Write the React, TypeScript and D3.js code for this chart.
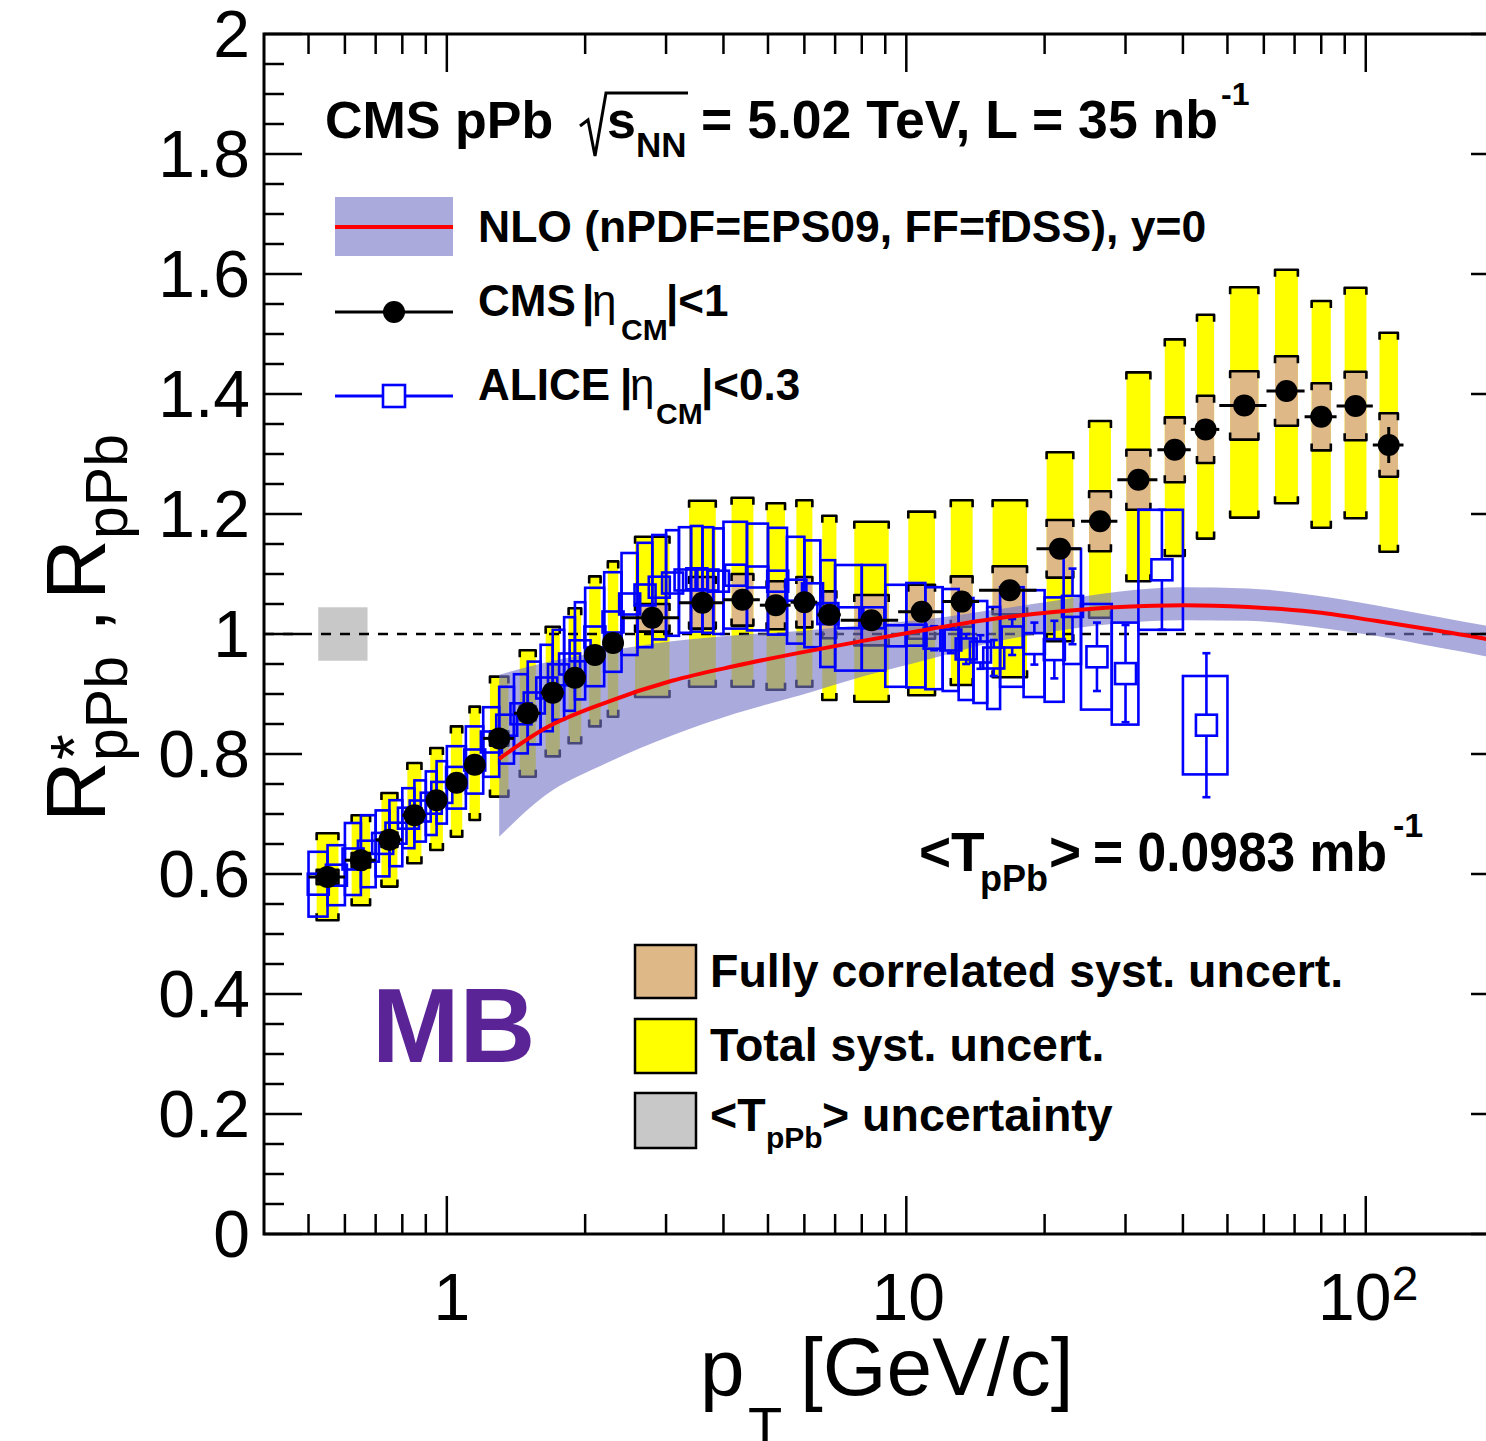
import React from "react";
import * as d3 from "d3";

const W = 1486;
const H = 1441;
const FONT = "'Liberation Sans', Arial, Helvetica, sans-serif";

// ---------- CMS |eta_CM|<1 ----------
const cmsEdges = [0.5, 0.6, 0.7, 0.8, 0.9, 1.0, 1.1, 1.2, 1.4, 1.6, 1.8, 2.0, 2.2, 2.4, 3.2, 4.0, 4.8, 5.6, 6.4, 7.2, 9.6, 12.0, 14.4, 19.2, 24.0, 28.8, 35.2, 41.6, 48.0, 60.8, 73.6, 86.4, 103.6, 120.8];
const cmsR = [0.595, 0.623, 0.657, 0.698, 0.723, 0.752, 0.782, 0.826, 0.868, 0.902, 0.927, 0.965, 0.985, 1.027, 1.052, 1.057, 1.048, 1.053, 1.032, 1.023, 1.037, 1.054, 1.073, 1.142, 1.188, 1.257, 1.307, 1.341, 1.381, 1.405, 1.362, 1.38, 1.315];
const cmsStat = [0.003, 0.003, 0.003, 0.003, 0.003, 0.003, 0.003, 0.003, 0.003, 0.003, 0.003, 0.003, 0.003, 0.004, 0.004, 0.005, 0.005, 0.005, 0.005, 0.005, 0.005, 0.006, 0.006, 0.007, 0.008, 0.008, 0.01, 0.01, 0.012, 0.014, 0.015, 0.017, 0.03];
const cmsTotLow = [0.523, 0.548, 0.579, 0.618, 0.64, 0.662, 0.69, 0.729, 0.762, 0.796, 0.818, 0.846, 0.862, 0.895, 0.912, 0.912, 0.907, 0.912, 0.89, 0.887, 0.898, 0.915, 0.928, 0.988, 1.027, 1.088, 1.13, 1.159, 1.194, 1.218, 1.177, 1.193, 1.137];
const cmsTotHigh = [0.668, 0.698, 0.735, 0.785, 0.81, 0.846, 0.879, 0.929, 0.973, 1.012, 1.043, 1.096, 1.121, 1.162, 1.222, 1.227, 1.218, 1.223, 1.197, 1.187, 1.204, 1.223, 1.223, 1.303, 1.355, 1.436, 1.491, 1.532, 1.578, 1.607, 1.555, 1.577, 1.502];
const cmsCorr = [0.012, 0.012, 0.012, 0.012, 0.012, 0.012, 0.012, 0.012, 0.012, 0.012, 0.012, 0.012, 0.012, 0.023, 0.043, 0.043, 0.04, 0.042, 0.039, 0.042, 0.045, 0.042, 0.04, 0.048, 0.05, 0.05, 0.054, 0.056, 0.057, 0.058, 0.056, 0.057, 0.053];

// ---------- ALICE |eta_CM|<0.3 ----------
const aliceEdges = [0.5, 0.55, 0.6, 0.65, 0.7, 0.75, 0.8, 0.85, 0.9, 0.95, 1.0, 1.1, 1.2, 1.3, 1.4, 1.5, 1.6, 1.7, 1.8, 1.9, 2.0, 2.2, 2.4, 2.6, 2.8, 3.0, 3.2, 3.4, 3.6, 3.8, 4.0, 4.5, 5.0, 5.5, 6.0, 6.5, 7.0, 8.0, 9.0, 10, 11, 12, 13, 14, 15, 16, 18, 20, 22, 24, 28, 32, 40, 50];
const aliceR = [0.583, 0.598, 0.625, 0.638, 0.651, 0.668, 0.693, 0.705, 0.718, 0.736, 0.761, 0.79, 0.82, 0.848, 0.867, 0.885, 0.91, 0.932, 0.95, 0.972, 0.995, 1.02, 1.05, 1.065, 1.078, 1.085, 1.09, 1.092, 1.09, 1.088, 1.098, 1.095, 1.088, 1.073, 1.067, 1.034, 1.027, 1.027, 0.997, 0.998, 0.993, 0.99, 0.975, 0.97, 0.96, 0.995, 0.984, 0.974, 1.046, 0.962, 0.934, 1.107, 0.848];
const aliceSys = [0.054, 0.05, 0.06, 0.06, 0.055, 0.055, 0.05, 0.051, 0.053, 0.052, 0.052, 0.056, 0.058, 0.064, 0.066, 0.069, 0.072, 0.075, 0.078, 0.081, 0.082, 0.083, 0.085, 0.087, 0.087, 0.088, 0.088, 0.088, 0.088, 0.088, 0.089, 0.089, 0.089, 0.089, 0.089, 0.089, 0.088, 0.088, 0.085, 0.087, 0.085, 0.085, 0.085, 0.085, 0.085, 0.083, 0.089, 0.087, 0.096, 0.088, 0.085, 0.1, 0.082];
const aliceStat = [0.003, 0.003, 0.003, 0.003, 0.003, 0.003, 0.003, 0.003, 0.003, 0.003, 0.003, 0.003, 0.003, 0.003, 0.003, 0.003, 0.004, 0.004, 0.004, 0.004, 0.004, 0.004, 0.005, 0.005, 0.005, 0.005, 0.006, 0.006, 0.006, 0.006, 0.008, 0.009, 0.01, 0.011, 0.012, 0.013, 0.013, 0.015, 0.016, 0.018, 0.02, 0.022, 0.025, 0.028, 0.03, 0.03, 0.035, 0.048, 0.063, 0.057, 0.081, 0.1, 0.12];

// ---------- NLO (nPDF=EPS09, FF=fDSS) ----------
const nloPt = [1.3, 1.63, 2.24, 3.09, 4.26, 5.88, 8.1, 11.2, 15.4, 21.2, 29.2, 40.2, 55.4, 76.4, 105, 145, 182, 205];
const nloMid = [0.792, 0.842, 0.887, 0.922, 0.947, 0.969, 0.989, 1.008, 1.025, 1.037, 1.045, 1.048, 1.045, 1.037, 1.022, 1.005, 0.992, 0.984];
const nloLow = [0.662, 0.73, 0.786, 0.831, 0.868, 0.898, 0.93, 0.958, 0.986, 1.005, 1.018, 1.023, 1.022, 1.012, 0.997, 0.977, 0.963, 0.954];
const nloHigh = [0.932, 0.952, 0.972, 0.988, 0.998, 1.005, 1.015, 1.025, 1.04, 1.056, 1.071, 1.078, 1.076, 1.065, 1.048, 1.028, 1.014, 1.006];

// ---------- <T_pPb> normalisation uncertainty ----------
const tpbPtRange = [0.525, 0.672];
const tpbErr = 0.0445;

// ---------- axes ----------
const yTickValues = [0, 0.2, 0.4, 0.6, 0.8, 1.0, 1.2, 1.4, 1.6, 1.8, 2.0];
const yTickLabels = ["0", "0.2", "0.4", "0.6", "0.8", "1", "1.2", "1.4", "1.6", "1.8", "2"];
const xMajorTicks = [1, 10, 100];
const xMinorTicks = [0.5, 0.6, 0.7, 0.8, 0.9, 2, 3, 4, 5, 6, 7, 8, 9, 20, 30, 40, 50, 60, 70, 80, 90, 200];

const YELLOW = "#ffff00";
const TAN = "#deb887";
const GRAY = "#c8c8c8";
const BAND = "rgb(117,117,198)";
const BAND_OP = 0.616;
const BLUE = "#0000ff";
const RED = "#ff0000";
const PURPLE = "#5b2496";

function bracketPath(x0: number, x1: number, yt: number, yb: number, h: number) {
  return `M${x0},${yt + h}L${x0},${yt}L${x1},${yt}L${x1},${yt + h}` +
    `M${x0},${yb - h}L${x0},${yb}L${x1},${yb}L${x1},${yb - h}`;
}

export default function App() {
  const X0 = 264, X1 = 1509, Y0 = 34, Y1 = 1234;
  const x = d3.scaleLog().domain([0.4, 205]).range([X0, X1]);
  const y = d3.scaleLinear().domain([0, 2]).range([Y1, Y0]);

  const cms = cmsR.map((v, i) => {
    const lo = cmsEdges[i], hi = cmsEdges[i + 1];
    const c = (lo + hi) / 2;
    const xc = x(c);
    const hw = 0.3 * (x(hi) - x(lo));
    return { v, lo, hi, c, xc, hw, stat: cmsStat[i], tl: cmsTotLow[i], th: cmsTotHigh[i], corr: cmsCorr[i] };
  });

  const alice = aliceR.map((v, i) => {
    const lo = aliceEdges[i], hi = aliceEdges[i + 1];
    const c = (lo + hi) / 2;
    return { v, lo, hi, c, sys: aliceSys[i], stat: aliceStat[i] };
  });

  const nlo = nloPt.map((p, i) => ({ p, m: nloMid[i], l: nloLow[i], h: nloHigh[i] }));
  const area = d3.area<any>().x(d => x(d.p)).y0(d => y(d.l)).y1(d => y(d.h)).curve(d3.curveMonotoneX);
  const line = d3.line<any>().x(d => x(d.p)).y(d => y(d.m)).curve(d3.curveMonotoneX);

  const yMinor = d3.range(0, 41).map(k => k * 0.05);

  const MS = 21; // ALICE marker size
  const R = 11; // CMS dot radius

  return (
    <svg width={W} height={H} viewBox={`0 0 ${W} ${H}`}
      style={{ position: "absolute", left: 0, top: 0, background: "#fff", overflow: "hidden" }}
      fontFamily={FONT}>
      <defs>
        <clipPath id="frame">
          <rect x={X0} y={Y0} width={X1 - X0} height={Y1 - Y0} />
        </clipPath>
      </defs>
      <rect x={0} y={0} width={W} height={H} fill="#fff" />

      <g clipPath="url(#frame)">
        {/* total syst (yellow) */}
        {cms.map((d, i) => (
          <g key={"ty" + i}>
            <rect x={d.xc - d.hw} y={y(d.th)} width={2 * d.hw} height={y(d.tl) - y(d.th)} fill={YELLOW} />
            <path d={bracketPath(d.xc - d.hw, d.xc + d.hw, y(d.th), y(d.tl), 7)} fill="none" stroke="#000" strokeWidth={2.6} strokeLinejoin="round" />
          </g>
        ))}
        {/* correlated syst (tan) */}
        {cms.map((d, i) => (
          <g key={"tc" + i}>
            <rect x={d.xc - d.hw} y={y(d.v + d.corr)} width={2 * d.hw} height={y(d.v - d.corr) - y(d.v + d.corr)} fill={TAN} />
            <path d={bracketPath(d.xc - d.hw, d.xc + d.hw, y(d.v + d.corr), y(d.v - d.corr), 7)} fill="none" stroke="#000" strokeWidth={2.6} strokeLinejoin="round" />
          </g>
        ))}
        {/* TpPb uncertainty box */}
        <rect x={x(tpbPtRange[0])} y={y(1 + tpbErr)} width={x(tpbPtRange[1]) - x(tpbPtRange[0])} height={y(1 - tpbErr) - y(1 + tpbErr)} fill={GRAY} />
        {/* dashed line at 1 */}
        <line x1={X0} x2={X1} y1={y(1)} y2={y(1)} stroke="#000" strokeWidth={2.5} strokeDasharray="10,9" />
        {/* NLO band */}
        <path d={area(nlo) || ""} fill={BAND} fillOpacity={BAND_OP} stroke="none" />
        {/* ALICE syst boxes */}
        {alice.map((d, i) => (
          <rect key={"ab" + i} x={x(d.lo)} y={y(d.v + d.sys)} width={x(d.hi) - x(d.lo)} height={y(d.v - d.sys) - y(d.v + d.sys)}
            fill="none" stroke={BLUE} strokeWidth={2.6} />
        ))}
        {/* ALICE stat bars + markers */}
        {alice.map((d, i) => {
          const xc = x(d.c);
          const yc = y(d.v);
          const yt = y(d.v + d.stat), yb = y(d.v - d.stat);
          const show = yc - yt > MS / 2 + 1;
          return (
            <g key={"am" + i}>
              {show && (
                <g stroke={BLUE} strokeWidth={2.6}>
                  <line x1={xc} x2={xc} y1={yc - MS / 2} y2={yt} />
                  <line x1={xc} x2={xc} y1={yc + MS / 2} y2={yb} />
                  <line x1={xc - 4} x2={xc + 4} y1={yt} y2={yt} />
                  <line x1={xc - 4} x2={xc + 4} y1={yb} y2={yb} />
                </g>
              )}
              <rect x={xc - MS / 2} y={yc - MS / 2} width={MS} height={MS} fill="none" stroke={BLUE} strokeWidth={2.6} />
            </g>
          );
        })}
        {/* NLO central */}
        <path d={line(nlo) || ""} fill="none" stroke={RED} strokeWidth={4} />
        {/* CMS points */}
        {cms.map((d, i) => (
          <g key={"cp" + i}>
            <line x1={x(d.lo)} x2={x(d.hi)} y1={y(d.v)} y2={y(d.v)} stroke="#000" strokeWidth={3} />
            {y(d.v) - y(d.v + d.stat) > R && (
              <line x1={d.xc} x2={d.xc} y1={y(d.v + d.stat)} y2={y(d.v - d.stat)} stroke="#000" strokeWidth={3} />
            )}
            <circle cx={d.xc} cy={y(d.v)} r={R} fill="#000" />
          </g>
        ))}
      </g>

      {/* frame */}
      <rect x={X0} y={Y0} width={X1 - X0} height={Y1 - Y0} fill="none" stroke="#000" strokeWidth={3} />

      {/* y ticks */}
      {yMinor.map((v, k) => {
        const major = k % 4 === 0;
        const len = major ? 38 : 20;
        return (
          <g key={"yt" + k} stroke="#000" strokeWidth={2.5}>
            <line x1={X0} x2={X0 + len} y1={y(v)} y2={y(v)} />
            <line x1={X1} x2={X1 - len} y1={y(v)} y2={y(v)} />
          </g>
        );
      })}
      {/* x ticks */}
      {xMajorTicks.map((v, k) => (
        <g key={"xM" + k} stroke="#000" strokeWidth={2.5}>
          <line x1={x(v)} x2={x(v)} y1={Y1} y2={Y1 - 38} />
          <line x1={x(v)} x2={x(v)} y1={Y0} y2={Y0 + 38} />
        </g>
      ))}
      {xMinorTicks.map((v, k) => (
        <g key={"xm" + k} stroke="#000" strokeWidth={2.5}>
          <line x1={x(v)} x2={x(v)} y1={Y1} y2={Y1 - 20} />
          <line x1={x(v)} x2={x(v)} y1={Y0} y2={Y0 + 20} />
        </g>
      ))}

      {/* y tick labels */}
      {yTickValues.map((v, k) => (
        <text key={"yl" + k} x={250} y={y(v) + 23} fontSize={66} textAnchor="end" fill="#000">{yTickLabels[k]}</text>
      ))}
      {/* x tick labels */}
      <text x={x(1) + 5} y={1320} fontSize={66} textAnchor="middle">1</text>
      <text x={x(10) + 2} y={1320} fontSize={66} textAnchor="middle">10</text>
      <text x={x(100) - 11} y={1320} fontSize={66} textAnchor="middle">10</text>
      <text x={x(100) + 26} y={1300} fontSize={48}>2</text>

      {/* axis titles */}
      <text x={700} y={1395} fontSize={80}>p</text>
      <text x={748} y={1446} fontSize={56}>T</text>
      <text x={800} y={1395} fontSize={82}>[GeV/c]</text>

      <g transform="translate(105,822) rotate(-90)">
        <text x={0} y={0} fontSize={84}>R</text>
        <text x={62} y={-8} fontSize={66}>*</text>
        <text x={61} y={22} fontSize={59}>pPb</text>
        <text x={190} y={0} fontSize={84}>,</text>
        <text x={222} y={0} fontSize={84}>R</text>
        <text x={283} y={22} fontSize={59}>pPb</text>
      </g>

      {/* header */}
      <g fontWeight="bold" fill="#000">
        <text x={325} y={138} fontSize={52}>CMS pPb</text>
        <path d="M580,126 L588,120 L595,156 L606,93 L688,93" fill="none" stroke="#000" strokeWidth={3} strokeLinejoin="miter" />
        <text x={607} y={138} fontSize={52}>s</text>
        <text x={636} y={157} fontSize={35}>NN</text>
        <text x={701} y={138} fontSize={53} textLength={517} lengthAdjust="spacingAndGlyphs">= 5.02 TeV, L = 35 nb</text>
        <text x={1221} y={105} fontSize={32}>-1</text>
      </g>

      {/* legend top */}
      <rect x={335} y={197} width={118} height={59} fill={BAND} fillOpacity={BAND_OP} />
      <line x1={335} x2={453} y1={227} y2={227} stroke={RED} strokeWidth={4} />
      <text x={478} y={242} fontSize={44.5} fontWeight="bold">NLO (nPDF=EPS09, FF=fDSS), y=0</text>

      <line x1={335} x2={453} y1={312} y2={312} stroke="#000" strokeWidth={3} />
      <circle cx={394} cy={312} r={R} fill="#000" />
      <g fontWeight="bold">
        <text x={478} y={316} fontSize={44}>CMS</text>
        <text x={582} y={316} fontSize={44}>|</text>
        <text x={592} y={316} fontSize={44} fontWeight="normal">η</text>
        <text x={621} y={340} fontSize={30}>CM</text>
        <text x={666} y={316} fontSize={44}>|&lt;1</text>
      </g>

      <line x1={335} x2={453} y1={396} y2={396} stroke={BLUE} strokeWidth={3} />
      <rect x={394 - 11} y={396 - 11} width={22} height={22} fill="#fff" stroke={BLUE} strokeWidth={2.6} />
      <g fontWeight="bold">
        <text x={478} y={400} fontSize={44}>ALICE</text>
        <text x={620} y={400} fontSize={44}>|</text>
        <text x={630} y={400} fontSize={44} fontWeight="normal">η</text>
        <text x={656} y={424} fontSize={30}>CM</text>
        <text x={701} y={400} fontSize={44}>|&lt;0.3</text>
      </g>

      {/* TpPb value */}
      <g fontWeight="bold">
        <text x={919} y={871} fontSize={55}>&lt;T</text>
        <text x={980} y={891} fontSize={36}>pPb</text>
        <text x={1049} y={871} fontSize={55}>&gt;</text>
        <text x={1093} y={871} fontSize={55} textLength={294} lengthAdjust="spacingAndGlyphs">= 0.0983 mb</text>
        <text x={1393} y={837} fontSize={34}>-1</text>
      </g>

      {/* MB */}
      <text x={372} y={1062} fontSize={105} fontWeight="bold" fill={PURPLE}>MB</text>

      {/* bottom legend */}
      <rect x={635} y={945} width={61} height={53} fill={TAN} stroke="#000" strokeWidth={2.5} />
      <rect x={635} y={1019} width={61} height={54} fill={YELLOW} stroke="#000" strokeWidth={2.5} />
      <rect x={635} y={1093} width={61} height={55} fill={GRAY} stroke="#000" strokeWidth={2.5} />
      <g fontWeight="bold">
        <text x={710} y={987} fontSize={46.5}>Fully correlated syst. uncert.</text>
        <text x={710} y={1061} fontSize={46.5}>Total syst. uncert.</text>
        <text x={710} y={1131} fontSize={46.5}>&lt;T</text>
        <text x={766} y={1148} fontSize={30}>pPb</text>
        <text x={822} y={1131} fontSize={46.5}>&gt; uncertainty</text>
      </g>
    </svg>
  );
}
